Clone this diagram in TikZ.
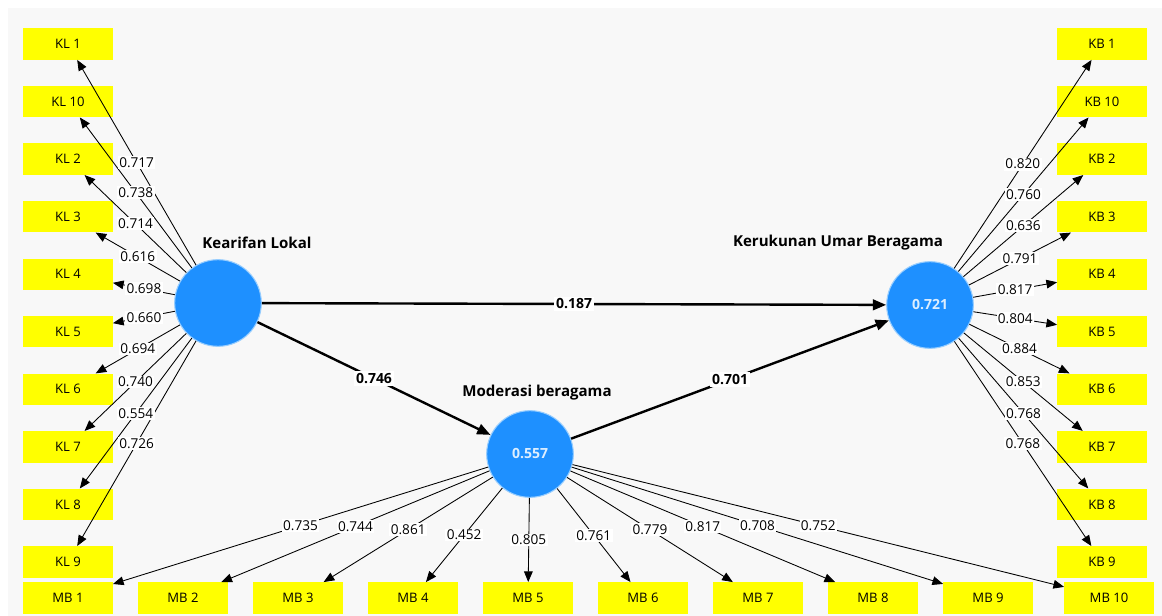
\documentclass[tikz,border=0pt]{standalone}
\usepackage{fontspec}
\setmainfont{Open Sans}
\usetikzlibrary{arrows.meta}

\definecolor{lvblue}{RGB}{30,144,255}
\definecolor{lvrim}{RGB}{150,205,255}
\definecolor{lvtext}{RGB}{220,238,255}
\definecolor{itemyellow}{RGB}{255,255,0}
\definecolor{canvas}{RGB}{248,248,248}

\tikzset{
  latent/.style={circle, fill=lvblue, draw=lvrim, line width=0.8pt, minimum size=65pt,
    inner sep=0pt, text=lvtext, font=\fontsize{10.5}{12}\selectfont\bfseries},
  lvname/.style={font=\fontsize{11.3}{13}\selectfont\bfseries},
  indicator/.style={fill=itemyellow, minimum width=67pt, minimum height=23.5pt,
    inner sep=0pt, font=\fontsize{9.8}{11}\selectfont},
  loading/.style={-{Triangle[length=8pt,width=6.5pt]}, line width=0.65pt},
  loadlabel/.style={fill=white, inner sep=1pt, font=\fontsize{10.2}{11}\selectfont},
  coefarrow/.style={-{Triangle[length=10pt,width=8pt]}, line width=1.8pt},
  coeflabel/.style={fill=white, inner sep=1.5pt, font=\fontsize{10.5}{12}\selectfont\bfseries}
}

% latent / indicator / outer loading
\newcommand{\loadinglist}{KL/KL1/0.717, KL/KL10/0.738, KL/KL2/0.714, KL/KL3/0.616,
  KL/KL4/0.698, KL/KL5/0.660, KL/KL6/0.694, KL/KL7/0.740, KL/KL8/0.554, KL/KL9/0.726,
  KB/KB1/0.820, KB/KB10/0.760, KB/KB2/0.636, KB/KB3/0.791, KB/KB4/0.817,
  KB/KB5/0.804, KB/KB6/0.884, KB/KB7/0.853, KB/KB8/0.768, KB/KB9/0.768,
  MB/MB1/0.735, MB/MB2/0.744, MB/MB3/0.861, MB/MB4/0.452, MB/MB5/0.805,
  MB/MB6/0.761, MB/MB7/0.779, MB/MB8/0.817, MB/MB9/0.708, MB/MB10/0.752}

\begin{document}
\begin{tikzpicture}[x=0.75pt,y=-0.75pt]
    % Canvas
    \useasboundingbox (0,0) rectangle (1162,616);
    \fill[white] (0,0) rectangle (1162,616);
    \fill[canvas] (8,8) rectangle (1162,616);

    % Latent variables
    \node[latent] (KL) at (218,303) {};
    \node[latent] (MB) at (530,454) {0.557};
    \node[latent] (KB) at (930,305) {0.721};

    % Latent names
    \node[lvname] (KLname) at (257,243) {Kearifan Lokal};
    \node[lvname] (MBname) at (537,393) {Moderasi beragama};
    \node[lvname] (KBname) at (838,243) {Kerukunan Umar Beragama};

    % Indicators
    \foreach \n [count=\k from 0] in {1,10,2,3,4,5,6,7,8,9} {
        \node[indicator] (KL\n) at (68,44+57.55*\k) {KL \n};
        \node[indicator] (KB\n) at (1102,44+57.55*\k) {KB \n};
    }
    \foreach \n/\x in {1/68,2/183,3/298,4/413,5/528,6/643,7/758,8/873,9/988,10/1109}
        \node[indicator] (MB\n) at (\x,598) {MB \n};

    % Outer loadings (lines first, labels on top)
    \foreach \lv/\mv/\v in \loadinglist
        \draw[loading] (\lv) -- (\mv);
    \foreach \lv/\mv/\v in \loadinglist
        \path (\lv) -- node[loadlabel] {\v} (\mv);

    % Path coefficients
    \draw[coefarrow] (KL) -- node[coeflabel] {0.187} (KB);
    \draw[coefarrow] (KL) -- node[coeflabel] {0.746} (MB);
    \draw[coefarrow] (MB) -- node[coeflabel] {0.701} (KB);
\end{tikzpicture}
\end{document}
